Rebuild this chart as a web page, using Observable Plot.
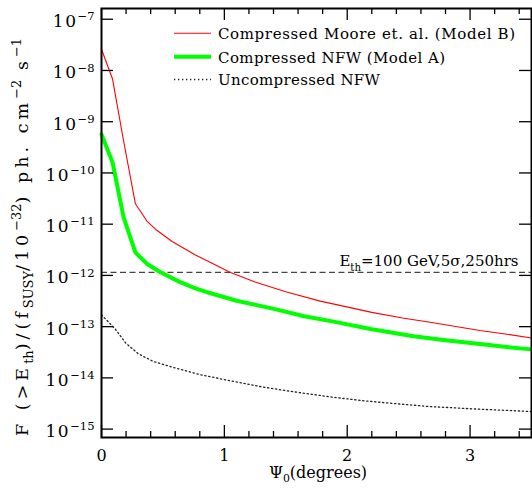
<!DOCTYPE html>
<html><head><meta charset="utf-8">
<script src="https://cdn.jsdelivr.net/npm/d3@7"></script>
<script src="https://cdn.jsdelivr.net/npm/@observablehq/plot@0.6"></script>
<style>body{margin:0;background:#fff}</style>
</head><body><div id="chart"></div>
<script>
// ---- data ----
const mooreX = [0, 0.09, 0.18, 0.276, 0.372, 0.45, 0.575, 0.764, 0.9, 1.05, 1.25, 1.5, 1.78, 1.94, 2.2, 2.45, 2.675, 3.08, 3.3, 3.5];
const mooreF = [2.6e-8, 6.8e-9, 4.2e-10, 2.5e-11, 1.13e-11, 7.6e-12, 4.6e-12, 2.5e-12, 1.72e-12, 1.14e-12, 7.45e-13, 4.8e-13, 3.15e-13, 2.6e-13, 1.9e-13, 1.48e-13, 1.22e-13, 8.4e-14, 7.1e-14, 6.0e-14];
const nfwX = [0, 0.09, 0.18, 0.276, 0.372, 0.48, 0.64, 0.764, 0.86, 1.1, 1.43, 1.65, 1.9, 2.2, 2.54, 2.8, 3.08, 3.3, 3.5];
const nfwF = [5.7e-10, 1.6e-10, 1.36e-11, 2.8e-12, 1.67e-12, 1.15e-12, 7.4e-13, 5.6e-13, 4.7e-13, 3.2e-13, 2.15e-13, 1.6e-13, 1.24e-13, 8.9e-14, 6.5e-14, 5.45e-14, 4.6e-14, 4.0e-14, 3.6e-14];
const uncX = [0, 0.11, 0.2, 0.3, 0.42, 0.575, 0.8, 1.035, 1.3, 1.577, 1.85, 2.12, 2.4, 2.66, 3.0, 3.5];
const uncF = [1.7e-13, 9.1e-14, 4.7e-14, 2.95e-14, 2.1e-14, 1.62e-14, 1.16e-14, 8.9e-15, 6.7e-15, 5.3e-15, 4.3e-15, 3.6e-15, 3.13e-15, 2.77e-15, 2.5e-15, 2.2e-15];
const threshold = 1.15e-12;

const xMajor = [0, 1, 2, 3];
const xTickLabels = ["0", "1", "2", "3"];
const xMinor = [0.2, 0.4, 0.6, 0.8, 1.2, 1.4, 1.6, 1.8, 2.2, 2.4, 2.6, 2.8, 3.2, 3.4];
const yMajor = [1e-15, 1e-14, 1e-13, 1e-12, 1e-11, 1e-10, 1e-9, 1e-8, 1e-7];
const yTickLabels = ["10^{\u221215}", "10^{\u221214}", "10^{\u221213}", "10^{\u221212}", "10^{\u221211}", "10^{\u221210}", "10^{\u22129}", "10^{\u22128}", "10^{\u22127}"];
const seriesNames = ["Compressed Moore et. al. (Model B)", "Compressed NFW (Model A)", "Uncompressed NFW"];
const xLabel = "\u03A8_{0}(degrees)";
const yLabel = "F (>E_{th})/(f_{SUSY}/10^{\u221232}) ph. cm^{\u22122} s^{\u22121}";
const thresholdLabel = "E_{th}=100 GeV,5\u03C3,250hrs";

const moore = mooreX.map((x, i) => ({x, f: mooreF[i]}));
const nfw = nfwX.map((x, i) => ({x, f: nfwF[i]}));
const unc = uncX.map((x, i) => ({x, f: uncF[i]}));

const W = 532, H = 491, mL = 101, mR = 1, mT = 8, mB = 54;
const PW = W - mL - mR, PH = H - mT - mB;
const FONT = "DejaVu Serif";
const red = "#ff0000", green = "#00ff00", dotc = "#222";

const tickStyle = {stroke: "black", strokeWidth: 1.3};
const svg = Plot.plot({
  width: W, height: H,
  marginLeft: mL, marginRight: mR, marginTop: mT, marginBottom: mB,
  style: {fontFamily: FONT, background: "white", color: "black", overflow: "visible"},
  x: {domain: [0, 3.5], axis: null},
  y: {type: "log", domain: [6.86e-16, 1.62e-7], axis: null},
  marks: [
    Plot.ruleY([threshold], {stroke: "#444", strokeWidth: 1.3, strokeDasharray: "6,3.5"}),
    Plot.line(unc, {x: "x", y: "f", stroke: dotc, strokeWidth: 1.3, strokeDasharray: "1.3,2.7"}),
    Plot.line(nfw, {x: "x", y: "f", stroke: green, strokeWidth: 4}),
    Plot.line(moore, {x: "x", y: "f", stroke: red, strokeWidth: 1.1}),
    // inward ticks on all four sides
    Plot.tickX(xMajor, {x: d => d, insetTop: PH - 12, ...tickStyle}),
    Plot.tickX(xMajor, {x: d => d, insetBottom: PH - 12, ...tickStyle}),
    Plot.tickX(xMinor, {x: d => d, insetTop: PH - 6, ...tickStyle}),
    Plot.tickX(xMinor, {x: d => d, insetBottom: PH - 6, ...tickStyle}),
    Plot.tickY(yMajor, {y: d => d, insetRight: PW - 12, ...tickStyle}),
    Plot.tickY(yMajor, {y: d => d, insetLeft: PW - 12, ...tickStyle}),
    Plot.frame({stroke: "black", strokeWidth: 2}),
    Plot.text(xTickLabels, {x: (d, i) => xMajor[i], frameAnchor: "bottom", dy: 23, lineAnchor: "bottom", fontSize: 16, fill: "black"}),
    Plot.text(yTickLabels, {y: (d, i) => yMajor[i], frameAnchor: "left", dx: -7, dy: 2.5, textAnchor: "end", lineAnchor: "middle", fontSize: 17, fill: "black", className: "richtext ytl"}),
    Plot.text([thresholdLabel], {y: threshold, frameAnchor: "right", dx: -13, dy: -6, textAnchor: "end", lineAnchor: "bottom", fontSize: 15, fill: "black", className: "richtext"})
  ]
});

const ns = "http://www.w3.org/2000/svg";
function rich(el, str, size, ls, k = 0.68) {
  el.textContent = "";
  const re = /([_^])\{([^}]*)\}/g;
  const parts = [];
  let last = 0, m;
  while ((m = re.exec(str))) {
    if (m.index > last) parts.push(["n", str.slice(last, m.index)]);
    parts.push([m[1], m[2]]);
    last = re.lastIndex;
  }
  if (last < str.length) parts.push(["n", str.slice(last)]);
  let cur = 0;
  for (const [t, s] of parts) {
    const target = t === "^" ? -0.4 * size : t === "_" ? 0.28 * size : 0;
    const ts = document.createElementNS(ns, "tspan");
    if (target !== cur) ts.setAttribute("dy", target - cur);
    cur = target;
    if (t !== "n") ts.setAttribute("font-size", k * size);
    else ts.setAttribute("class", "main");
    if (ls && t === "n") ts.setAttribute("letter-spacing", ls);
    ts.textContent = s;
    el.appendChild(ts);
  }
}
d3.select(svg).selectAll("g.richtext text").each(function() {
  const g = this.parentNode;
  const fs = parseFloat(g.getAttribute("font-size")) || 16;
  rich(this, this.textContent, fs, g.classList.contains("ytl") ? 1.5 : 0);
});

const s = d3.select(svg);
// legend
const legY = [33.3, 56.7, 79.5];
const legW = [297, 227, 162];
const legStyles = [
  {stroke: red, w: 1.1, dash: null},
  {stroke: green, w: 4, dash: null},
  {stroke: dotc, w: 1.3, dash: "1.3,2.7"}
];
const lg = s.append("g").attr("font-family", FONT).attr("font-size", 15).attr("text-anchor", "start");
seriesNames.forEach((name, i) => {
  lg.append("line").attr("x1", 174).attr("x2", 211).attr("y1", legY[i]).attr("y2", legY[i])
    .attr("stroke", legStyles[i].stroke).attr("stroke-width", legStyles[i].w)
    .attr("stroke-dasharray", legStyles[i].dash);
  lg.append("text").attr("x", 218).attr("y", legY[i] + 5.8).attr("fill", "black")
    .attr("textLength", legW[i]).attr("lengthAdjust", "spacing").text(name);
});
// axis labels
const xl = s.append("text").attr("x", 318).attr("y", 478).attr("text-anchor", "middle")
  .attr("font-family", FONT).attr("font-size", 16).attr("fill", "black");
rich(xl.node(), xLabel, 16);
const yl = s.append("text").attr("transform", "translate(28,237) rotate(-90)").attr("text-anchor", "middle")
  .attr("font-family", FONT).attr("font-size", 17.5).attr("fill", "black");
rich(yl.node(), yLabel, 17.5, 0, 0.74);

document.getElementById("chart").appendChild(svg);

// spread the y label to the reference length using spacing on the main-size runs only
const target = 398;
const natural = yl.node().getComputedTextLength();
const mains = yl.selectAll("tspan.main");
let nChars = 0;
mains.each(function() { nChars += this.textContent.length; });
if (natural > 0 && natural < target) mains.attr("letter-spacing", ((target - natural) / nChars).toFixed(2));
</script>
</body></html>
